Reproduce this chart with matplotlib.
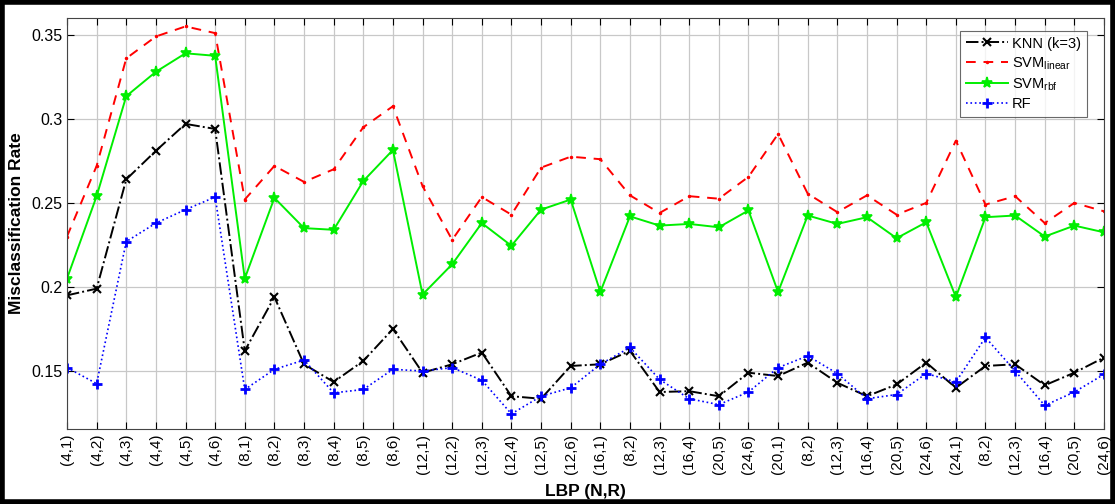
import matplotlib
matplotlib.use("Agg")
import matplotlib.pyplot as plt
from matplotlib.patches import Rectangle

plt.rcParams['font.family'] = ['Liberation Sans', 'DejaVu Sans']
plt.rcParams['mathtext.fontset'] = 'custom'
plt.rcParams['mathtext.rm'] = 'Liberation Sans'

categories = ["(4,1)", "(4,2)", "(4,3)", "(4,4)", "(4,5)", "(4,6)",
              "(8,1)", "(8,2)", "(8,3)", "(8,4)", "(8,5)", "(8,6)",
              "(12,1)", "(12,2)", "(12,3)", "(12,4)", "(12,5)", "(12,6)",
              "(16,1)", "(8,2)", "(12,3)", "(16,4)", "(20,5)", "(24,6)",
              "(20,1)", "(8,2)", "(12,3)", "(16,4)", "(20,5)", "(24,6)",
              "(24,1)", "(8,2)", "(12,3)", "(16,4)", "(20,5)", "(24,6)"]

knn = [0.195, 0.199, 0.264, 0.281, 0.297, 0.294,
       0.162, 0.194, 0.154, 0.1435, 0.156, 0.175,
       0.149, 0.154, 0.161, 0.135, 0.1335, 0.153,
       0.154, 0.162, 0.1375, 0.138, 0.135, 0.149,
       0.147, 0.155, 0.143, 0.135, 0.142, 0.155,
       0.140, 0.153, 0.154, 0.1415, 0.149, 0.158]

svm_linear = [0.230, 0.272, 0.336, 0.349, 0.355, 0.351,
              0.252, 0.272, 0.2625, 0.270, 0.295, 0.3075,
              0.260, 0.228, 0.2535, 0.243, 0.271, 0.2775,
              0.276, 0.2545, 0.244, 0.254, 0.2525, 0.2655,
              0.291, 0.2555, 0.2445, 0.2545, 0.243, 0.250,
              0.287, 0.249, 0.254, 0.238, 0.250, 0.245]

svm_rbf = [0.205, 0.254, 0.3135, 0.328, 0.339, 0.3375,
           0.205, 0.253, 0.235, 0.234, 0.263, 0.2815,
           0.1955, 0.2135, 0.238, 0.2245, 0.246, 0.252,
           0.197, 0.242, 0.2365, 0.2375, 0.2355, 0.2455,
           0.197, 0.2425, 0.2375, 0.2415, 0.229, 0.2385,
           0.194, 0.2415, 0.2425, 0.230, 0.2365, 0.2325]

rf = [0.152, 0.1425, 0.227, 0.238, 0.246, 0.2535,
      0.139, 0.151, 0.1565, 0.137, 0.139, 0.151,
      0.150, 0.152, 0.1445, 0.1245, 0.135, 0.140,
      0.154, 0.164, 0.145, 0.1335, 0.130, 0.1375,
      0.152, 0.159, 0.1485, 0.1335, 0.136, 0.1485,
      0.1435, 0.170, 0.150, 0.1295, 0.1375, 0.148]

yticks = [0.15, 0.2, 0.25, 0.3, 0.35]
ytick_labels = ["0.15", "0.2", "0.25", "0.3", "0.35"]

fig = plt.figure(figsize=(11.15, 5.04), dpi=100)
ax = fig.add_axes([67/1115, 1 - 429/504, (1104-67)/1115, (429-18)/504])

x = list(range(len(categories)))
ax.plot(x, knn, color='black', linestyle='-.', marker='x', markersize=6,
        markeredgewidth=1.5, linewidth=1.4, label='KNN (k=3)')
ax.plot(x, svm_linear, color='red', linestyle=(0, (5, 4)), marker='.', markersize=3,
        linewidth=1.4, label=r'SVM$_{\mathregular{linear}}$')
ax.plot(x, svm_rbf, color='#00ee00', linestyle='-', marker='*', markersize=8,
        markeredgewidth=1.2, linewidth=1.4, label=r'SVM$_{\mathregular{rbf}}$')
ax.plot(x, rf, color='blue', linestyle=':', marker='+', markersize=7,
        markeredgewidth=2.0, linewidth=1.2, label='RF')

ax.set_xlim(0, len(categories) - 1)
ax.set_ylim(0.1155, 0.36)
ax.set_xticks(x)
ax.set_xticklabels(categories, rotation=90, fontsize=11)
ax.set_yticks(yticks)
ax.set_yticklabels(ytick_labels, fontsize=11.5)
ax.tick_params(direction='in', top=True, right=True, length=5, width=0.8)
ax.grid(True, color='#c8c8c8', linewidth=0.9)
ax.set_axisbelow(True)
for s in ax.spines.values():
    s.set_linewidth(0.8)
    s.set_color('#444444')

ax.set_xlabel('LBP (N,R)', fontsize=12.5, fontweight='bold', labelpad=7.5)
ax.set_ylabel('Misclassification Rate', fontsize=12.5, fontweight='bold', labelpad=5)

leg = ax.legend(loc='upper right', bbox_to_anchor=(0.9836, 0.969), borderaxespad=0,
                fontsize=10.5, frameon=True, fancybox=False, edgecolor='#444444',
                handlelength=2.85, handletextpad=0.3, labelspacing=0.3,
                borderpad=0.4)
leg.get_frame().set_linewidth(0.8)

fig.patches.append(Rectangle((0.002, 0.004), 0.996, 0.992, transform=fig.transFigure,
                             fill=False, edgecolor='black', linewidth=4))

fig.savefig('out.png', dpi=100)
